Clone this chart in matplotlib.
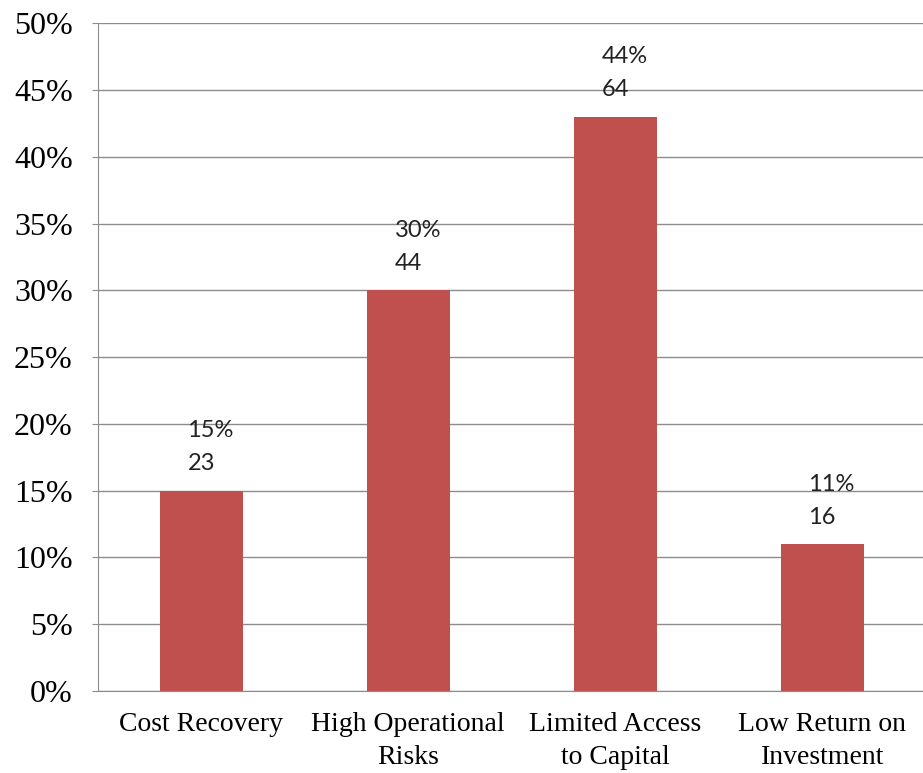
import matplotlib.pyplot as plt

categories = ["Cost Recovery", "High Operational\nRisks", "Limited Access\nto Capital", "Low Return on\nInvestment"]
shares = [15, 30, 43, 11]          # bar heights, percent
share_labels = ["15%", "30%", "44%", "11%"]
counts = [23, 44, 64, 16]

BAR = "#C0504D"
GRID = "#8c8c8c"

fig = plt.figure(figsize=(9.23, 7.73), dpi=100)
ax = fig.add_axes([0.106, 0.106, 0.897, 0.864])

x = range(len(categories))
ax.bar(x, shares, width=0.4, color=BAR, zorder=2)

for i, (v, pl, c) in enumerate(zip(shares, share_labels, counts)):
    ax.annotate(pl, xy=(i, v), xytext=(-10, 43), textcoords="offset points",
                ha="left", va="center", fontsize=17, family="Lato", color="#222")
    ax.annotate(str(c), xy=(i, v), xytext=(-10, 19.5), textcoords="offset points",
                ha="left", va="center", fontsize=17, family="Lato", color="#222")

ax.set_xlim(-0.5, 3.5)
ax.set_ylim(0, 50)
ax.set_yticks(range(0, 51, 5))
ax.set_yticklabels([f"{t}%" for t in range(0, 51, 5)], family="Liberation Serif", fontsize=23)
ax.set_xticks(list(x))
ax.set_xticklabels(categories, family="Liberation Serif", fontsize=20, linespacing=1.45)

ax.yaxis.grid(True, color=GRID, linewidth=1)
ax.set_axisbelow(True)
ax.spines[["top", "right"]].set_visible(False)
ax.spines["left"].set_color(GRID)
ax.spines["bottom"].set_color(GRID)
ax.tick_params(axis="y", length=4, color=GRID, pad=14)
ax.tick_params(axis="x", length=0, pad=15)

plt.savefig("out.png", dpi=100)
